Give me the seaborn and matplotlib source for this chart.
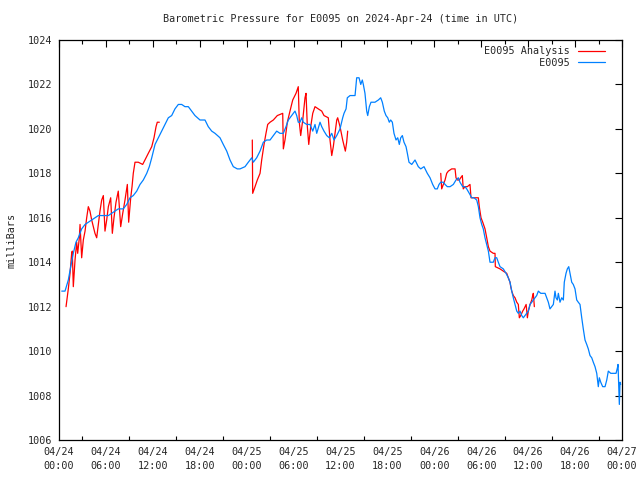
import numpy as np
import pandas as pd
import matplotlib
matplotlib.use("Agg")
import matplotlib.pyplot as plt
import matplotlib.dates as mdates
from matplotlib.lines import Line2D
import seaborn as sns

# hours after 2024-04-24 00:00 UTC, pressure in mb
obs_hours = [0.35, 0.77, 1.19, 1.50, 1.83, 2.17, 2.47, 2.90, 3.33, 3.75, 4.18, 4.60, 5.03, 5.67,
             6.31, 6.74, 7.16, 7.58, 8.22, 8.66, 9.08, 9.50, 9.94, 10.36, 10.78, 11.22, 11.55,
             11.86, 12.28, 12.70, 13.13, 13.56, 13.98, 14.41, 14.83, 15.26, 15.69, 16.11, 16.54,
             16.97, 17.39, 18.03, 18.67, 19.09, 19.53, 19.95, 20.59, 21.01, 21.45, 21.87, 22.29,
             22.80, 23.15, 23.79, 24.21, 24.65, 24.85, 25.28, 25.71, 26.13, 26.56, 26.99, 27.41,
             27.84, 28.26, 28.69, 29.03, 29.33, 29.76, 30.18, 30.40, 30.60, 30.82, 31.04, 31.24,
             31.68, 32.10, 32.45, 32.74, 32.96, 33.38, 33.60, 33.89, 34.24, 34.57, 34.88, 35.17,
             35.52, 35.94, 36.28, 36.45, 36.71, 36.87, 37.22, 37.86, 38.07, 38.37, 38.59, 38.79,
             38.92, 39.13, 39.35, 39.48, 39.69, 39.90, 40.41, 40.84, 41.14, 41.35, 41.60, 41.82,
             42.04, 42.24, 42.42, 42.63, 42.84, 43.10, 43.32, 43.52, 43.70, 43.91, 44.12, 44.38,
             44.55, 44.76, 45.11, 45.53, 45.95, 46.26, 46.68, 47.10, 47.45, 47.79, 48.09, 48.38,
             48.60, 48.82, 49.15, 49.37, 49.66, 50.01, 50.43, 50.77, 51.07, 51.28, 51.63, 51.92,
             52.14, 52.47, 52.78, 53.07, 53.42, 53.63, 53.84, 54.06, 54.26, 54.48, 54.70, 54.91,
             55.12, 55.34, 55.54, 55.76, 55.98, 56.18, 56.40, 56.82, 57.17, 57.46, 57.68, 57.90,
             58.10, 58.32, 58.54, 58.74, 58.96, 59.18, 59.38, 59.60, 59.81, 60.02, 60.24, 60.46,
             60.66, 60.88, 61.09, 61.30, 61.61, 61.94, 62.16, 62.37, 62.58, 62.79, 63.01, 63.22,
             63.43, 63.56, 63.73, 63.86, 64.07, 64.29, 64.50, 64.62, 64.84, 65.01, 65.19, 65.35,
             65.57, 65.77, 65.99, 66.21, 66.41, 66.63, 66.85, 67.05, 67.27, 67.49, 67.69, 67.91,
             68.13, 68.33, 68.55, 68.77, 68.97, 69.10, 69.28, 69.53, 69.83, 70.05, 70.25, 70.56,
             70.89, 71.24, 71.45, 71.49, 71.58, 71.66, 71.75, 71.83]
obs_mb = [1012.7, 1012.7, 1013.2, 1013.8, 1014.4, 1014.9, 1015.1, 1015.5, 1015.7, 1015.8, 1015.9,
          1016.0, 1016.1, 1016.1, 1016.1, 1016.2, 1016.3, 1016.4, 1016.4, 1016.6, 1016.9, 1017.0,
          1017.2, 1017.5, 1017.7, 1018.0, 1018.3, 1018.7, 1019.3, 1019.6, 1019.9, 1020.2, 1020.5,
          1020.6, 1020.9, 1021.1, 1021.1, 1021.0, 1021.0, 1020.8, 1020.6, 1020.4, 1020.4, 1020.1,
          1019.9, 1019.8, 1019.6, 1019.3, 1019.0, 1018.6, 1018.3, 1018.2, 1018.2, 1018.3, 1018.5,
          1018.7, 1018.5, 1018.7, 1019.0, 1019.4, 1019.5, 1019.5, 1019.7, 1019.9, 1019.8, 1019.8,
          1020.1, 1020.4, 1020.6, 1020.8, 1020.6, 1020.3, 1020.3, 1020.5, 1020.3, 1020.2, 1020.2,
          1019.9, 1020.2, 1019.8, 1020.3, 1020.1, 1019.9, 1019.7, 1019.6, 1019.8, 1019.5, 1019.7,
          1020.0, 1020.5, 1020.7, 1020.9, 1021.4, 1021.5, 1021.5, 1022.3, 1022.3, 1022.0, 1022.2,
          1022.0, 1021.6, 1020.8, 1020.6, 1021.0, 1021.2, 1021.2, 1021.3, 1021.4, 1021.2, 1020.8,
          1020.6, 1020.5, 1020.3, 1020.4, 1020.3, 1019.8, 1019.5, 1019.6, 1019.3, 1019.6, 1019.7,
          1019.4, 1019.2, 1018.9, 1018.5, 1018.4, 1018.6, 1018.3, 1018.2, 1018.3, 1018.0, 1017.8,
          1017.5, 1017.3, 1017.3, 1017.5, 1017.6, 1017.6, 1017.5, 1017.4, 1017.4, 1017.5, 1017.7,
          1017.8, 1017.6, 1017.4, 1017.4, 1017.3, 1017.1, 1016.9, 1016.9, 1016.8, 1016.5, 1016.0,
          1015.7, 1015.5, 1015.1, 1014.8, 1014.5, 1014.0, 1014.0, 1014.0, 1014.2, 1014.2, 1014.0,
          1013.8, 1013.7, 1013.5, 1013.3, 1013.1, 1012.7, 1012.4, 1012.1, 1011.8, 1011.7, 1011.8,
          1011.6, 1011.5, 1011.6, 1011.7, 1011.8, 1012.1, 1012.2, 1012.3, 1012.4, 1012.5, 1012.7,
          1012.6, 1012.6, 1012.6, 1012.4, 1012.2, 1011.9, 1012.0, 1012.1, 1012.7, 1012.4, 1012.3,
          1012.6, 1012.2, 1012.4, 1012.3, 1013.1, 1013.5, 1013.7, 1013.8, 1013.5, 1013.1, 1013.0,
          1012.8, 1012.3, 1012.2, 1012.1, 1011.5, 1011.0, 1010.5, 1010.3, 1010.1, 1009.8, 1009.7,
          1009.5, 1009.3, 1009.0, 1008.4, 1008.8, 1008.6, 1008.4, 1008.4, 1008.7, 1009.1, 1009.0,
          1009.0, 1009.0, 1009.3, 1009.4, 1008.5, 1007.6, 1008.6, 1008.5]

# analysis, three separate runs
ana1_hours = [0.90, 1.19, 1.41, 1.62, 1.70, 1.83, 2.05, 2.26, 2.39, 2.60, 2.69, 2.90, 3.11, 3.33,
              3.54, 3.75, 3.96, 4.18, 4.39, 4.60, 4.82, 5.03, 5.24, 5.46, 5.67, 5.88, 6.10, 6.31,
              6.61, 6.82, 7.03, 7.29, 7.58, 7.89, 8.15, 8.44, 8.74, 8.91, 9.17, 9.34, 9.50, 9.72,
              10.14, 10.70, 10.99, 11.42, 11.86, 12.15, 12.41, 12.57, 12.83]
ana1_mb = [1012.0, 1012.8, 1013.5, 1014.4, 1014.5, 1012.9, 1014.1, 1014.9, 1014.4, 1015.1, 1015.7,
           1014.2, 1015.0, 1015.4, 1016.0, 1016.5, 1016.3, 1015.9, 1015.6, 1015.3, 1015.1, 1015.7,
           1016.3, 1016.8, 1017.0, 1015.4, 1015.9, 1016.5, 1016.9, 1015.3, 1016.0, 1016.7, 1017.2,
           1015.6, 1016.2, 1016.8, 1017.5, 1015.8, 1016.9, 1017.4, 1018.0, 1018.5, 1018.5, 1018.4,
           1018.6, 1018.9, 1019.2, 1019.6, 1020.1, 1020.3, 1020.3]
ana2_hours = [24.72, 24.77, 25.07, 25.36, 25.71, 25.92, 26.22, 26.47, 26.69, 26.99, 27.41, 27.92,
              28.61, 28.69, 28.90, 29.20, 29.54, 29.89, 30.31, 30.60, 30.73, 30.91, 31.17, 31.46,
              31.59, 31.76, 31.94, 32.19, 32.45, 32.74, 33.16, 33.60, 33.89, 34.44, 34.66, 34.88,
              35.08, 35.30, 35.52, 35.64, 35.94, 36.28, 36.62, 36.79, 36.92]
ana2_mb = [1019.5, 1017.1, 1017.4, 1017.7, 1018.0, 1018.6, 1019.3, 1019.8, 1020.2, 1020.3, 1020.4,
           1020.6, 1020.7, 1019.1, 1019.5, 1020.3, 1020.8, 1021.3, 1021.6, 1021.9, 1020.3, 1019.7,
           1020.4, 1021.4, 1021.6, 1020.1, 1019.3, 1020.1, 1020.7, 1021.0, 1020.9, 1020.8, 1020.6,
           1020.5, 1019.5, 1018.8, 1019.2, 1019.8, 1020.4, 1020.5, 1020.1, 1019.5, 1019.0, 1019.4,
           1019.9]
ana3_hours = [48.82, 48.94, 49.15, 49.37, 49.58, 49.79, 50.22, 50.65, 50.77, 50.94, 51.19, 51.37,
              51.58, 51.70, 51.92, 52.22, 52.56, 52.69, 53.20, 53.63, 53.75, 53.97, 54.19, 54.48,
              54.70, 54.91, 55.12, 55.54, 55.76, 55.80, 56.40, 56.82, 57.26, 57.46, 57.68, 57.77,
              57.90, 58.10, 58.32, 58.54, 58.74, 58.87, 59.05, 59.30, 59.47, 59.74, 59.90, 60.02,
              60.24, 60.46, 60.58, 60.66, 60.79]
ana3_mb = [1018.0, 1017.3, 1017.5, 1017.7, 1018.0, 1018.1, 1018.2, 1018.2, 1017.8, 1017.7, 1017.7,
           1017.8, 1017.9, 1017.3, 1017.4, 1017.4, 1017.5, 1016.9, 1016.9, 1016.9, 1016.5, 1016.0,
           1015.8, 1015.5, 1015.1, 1014.7, 1014.5, 1014.4, 1014.4, 1013.8, 1013.7, 1013.6, 1013.5,
           1013.3, 1013.1, 1012.9, 1012.7, 1012.5, 1012.4, 1012.2, 1012.1, 1011.5, 1011.6, 1011.8,
           1011.9, 1012.1, 1011.5, 1011.8, 1012.1, 1012.3, 1012.5, 1012.6, 1012.0]

start = pd.Timestamp("2024-04-24 00:00")
parts = []
for name, seg, hrs, vals in [("E0095 Analysis", 1, ana1_hours, ana1_mb),
                             ("E0095 Analysis", 2, ana2_hours, ana2_mb),
                             ("E0095 Analysis", 3, ana3_hours, ana3_mb),
                             ("E0095", 4, obs_hours, obs_mb)]:
    parts.append(pd.DataFrame({"time": start + pd.to_timedelta(hrs, unit="h"),
                               "mb": vals, "series": name, "seg": seg}))
df = pd.concat(parts, ignore_index=True)

colors = {"E0095 Analysis": "#ff0000", "E0095": "#0080ff"}

sns.set_style("white")
plt.rcParams["font.family"] = ["DejaVu Sans Mono"]
plt.rcParams["font.size"] = 7.3

fig = plt.figure(figsize=(6.4, 4.8), dpi=100)
ax = fig.add_axes([59 / 640, 40 / 480, 563 / 640, 400 / 480])

sns.lineplot(data=df, x="time", y="mb", hue="series", units="seg", estimator=None,
             hue_order=["E0095 Analysis", "E0095"], palette=colors, lw=0.9, ax=ax,
             legend=False)

ax.set_xlim(start, start + pd.Timedelta(hours=72))
ax.set_ylim(1006, 1024)
ax.set_yticks(np.arange(1006, 1025, 2))
ax.xaxis.set_major_locator(mdates.HourLocator(byhour=[0, 6, 12, 18]))
ax.xaxis.set_minor_locator(mdates.HourLocator(byhour=[3, 9, 15, 21]))
ax.xaxis.set_major_formatter(mdates.DateFormatter("%m/%d\n%H:%M"))
ax.tick_params(which="major", direction="in", length=5, width=0.8, top=True, right=True,
               color="black", labelsize=7.3, pad=5)
ax.tick_params(which="minor", direction="in", length=3, width=0.8, top=True, bottom=True,
               color="black")
for lbl in ax.get_xticklabels():
    lbl.set_linespacing(1.45)
for s in ax.spines.values():
    s.set_color("black")
    s.set_linewidth(0.9)

ax.set_xlabel("")
ax.set_ylabel("milliBars", fontsize=7.3, labelpad=8)
ax.set_title("Barometric Pressure for E0095 on 2024-Apr-24 (time in UTC)", fontsize=7.3, pad=13)

handles = [Line2D([], [], color=colors["E0095 Analysis"], lw=0.9),
           Line2D([], [], color=colors["E0095"], lw=0.9)]
ax.legend(handles, ["E0095 Analysis", "         E0095"], loc="upper right", frameon=False,
          markerfirst=False, fontsize=7.3, handlelength=2.6, handletextpad=0.8,
          labelspacing=0.15, borderaxespad=0.2, bbox_to_anchor=(0.98, 1.0))

fig.savefig("out.png", dpi=100)
